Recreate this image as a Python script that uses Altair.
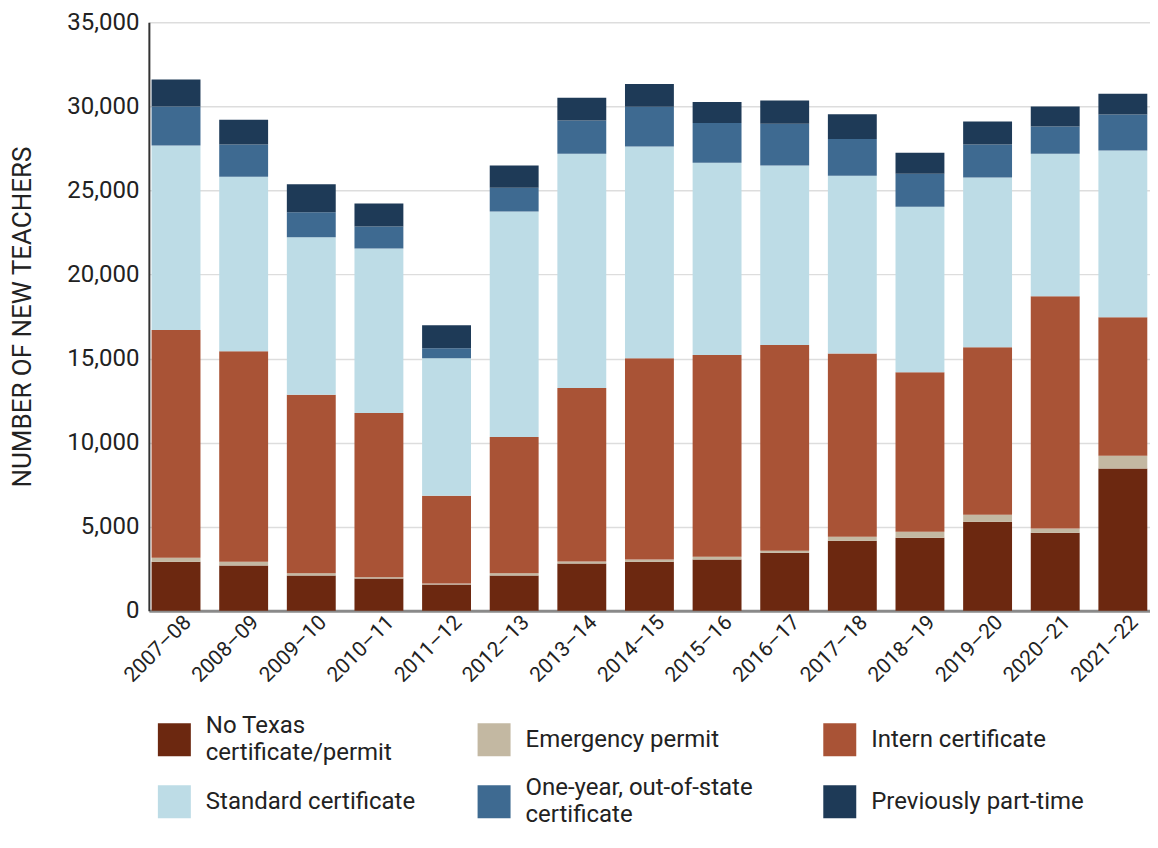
import altair as alt
import pandas as pd

years = ["2007–08", "2008–09", "2009–10", "2010–11", "2011–12", "2012–13", "2013–14",
         "2014–15", "2015–16", "2016–17", "2017–18", "2018–19", "2019–20", "2020–21", "2021–22"]

categories = ["No Texas certificate/permit", "Emergency permit", "Intern certificate",
              "Standard certificate", "One-year, out-of-state certificate", "Previously part-time"]
legend_lines = [["No Texas", "certificate/permit"], ["Emergency permit"], ["Intern certificate"],
                ["Standard certificate"], ["One-year, out-of-state", "certificate"], ["Previously part-time"]]
colors = ["#6c2810", "#c3b8a2", "#a95336", "#bddce6", "#3e6a91", "#1e3a57"]

no_texas = [2920, 2690, 2100, 1930, 1570, 2100, 2820, 2920, 3050, 3450, 4170, 4340, 5300, 4640, 8460]
emergency = [240, 230, 130, 60, 60, 130, 110, 130, 170, 130, 230, 360, 420, 250, 760]
intern = [13540, 12520, 10620, 9770, 5210, 8110, 10320, 11970, 11990, 12230, 10910, 9490, 9960, 13820, 8240]
standard = [10980, 10380, 9370, 9790, 8180, 13410, 13940, 12590, 11440, 10680, 10570, 9850, 10090, 8480, 9920]
one_year = [2310, 1910, 1480, 1310, 590, 1420, 1970, 2370, 2370, 2480, 2180, 1950, 1970, 1610, 2140]
part_time = [1610, 1480, 1670, 1360, 1380, 1310, 1360, 1360, 1250, 1380, 1480, 1250, 1360, 1190, 1230]

series = [no_texas, emergency, intern, standard, one_year, part_time]

rows = []
for ci, (cat, vals) in enumerate(zip(categories, series)):
    for y, v in zip(years, vals):
        rows.append({"year": y, "category": cat, "value": v, "order": ci})
df = pd.DataFrame(rows)

# legend table
leg_rows = []
for ci, (cat, lines) in enumerate(zip(categories, legend_lines)):
    for li, line in enumerate(lines):
        leg_rows.append({"category": cat, "col": ci % 3, "row": ci // 3,
                         "text": line, "line": li, "nlines": len(lines)})
leg_df = pd.DataFrame(leg_rows)

FONT = "Roboto"
color_scale = alt.Scale(domain=categories, range=colors)

bars = alt.Chart(df).mark_bar().encode(
    x=alt.X("year:N", sort=years, title=None,
            scale=alt.Scale(paddingInner=0.277, paddingOuter=0.04),
            axis=alt.Axis(labelAngle=-45, labelAlign="right", labelBaseline="middle",
                          labelFont=FONT, labelFontSize=21, labelColor="#222",
                          labelPadding=8, labelOffset=12, ticks=False,
                          domainColor="#8a8a8a", domainWidth=3)),
    y=alt.Y("sum(value):Q", title="NUMBER OF NEW TEACHERS",
            scale=alt.Scale(domain=[0, 35000], nice=False),
            axis=alt.Axis(values=[0, 5000, 10000, 15000, 20000, 25000, 30000, 35000],
                          format=",d", labelFont=FONT, labelFontSize=24, labelColor="#222",
                          labelPadding=10, ticks=False,
                          titleFont=FONT, titleFontSize=26, titleFontWeight="normal",
                          titleColor="#222", titlePadding=31,
                          domainColor="#333", domainWidth=2,
                          gridColor="#dddddd", gridWidth=1.5)),
    color=alt.Color("category:N", scale=color_scale, legend=None),
    order=alt.Order("order:Q", sort="ascending"),
).properties(width=1002, height=589)

leg_x = alt.X("col:Q", scale=alt.Scale(domain=[0, 1, 2], range=[0, 320, 666]), axis=None)
leg_y = alt.Y("row:Q", scale=alt.Scale(domain=[0, 1], range=[0, 62]), axis=None)

leg_base = alt.Chart(leg_df)
swatches = leg_base.transform_filter("datum.line == 0").mark_square(
    size=1089, opacity=1, xOffset=25.5
).encode(x=leg_x, y=leg_y, color=alt.Color("category:N", scale=color_scale, legend=None))

text_kw = dict(align="left", baseline="middle", font=FONT, fontSize=24, color="#222", dx=57)
single = leg_base.transform_filter("datum.nlines == 1").mark_text(**text_kw).encode(
    x=leg_x, y=leg_y, text="text:N")
first = leg_base.transform_filter("datum.nlines == 2 && datum.line == 0").mark_text(
    dy=-13.5, **text_kw).encode(x=leg_x, y=leg_y, text="text:N")
second = leg_base.transform_filter("datum.nlines == 2 && datum.line == 1").mark_text(
    dy=13.5, **text_kw).encode(x=leg_x, y=leg_y, text="text:N")

legend = alt.layer(swatches, single, first, second).properties(width=990, height=62)

chart = alt.vconcat(bars, legend, spacing=129, bounds="flush").properties(
    padding={"left": 1, "top": 2, "right": 0, "bottom": 0},
).configure_view(stroke=None)

chart.save("out.html", embed_options={"renderer": "svg", "actions": False})
